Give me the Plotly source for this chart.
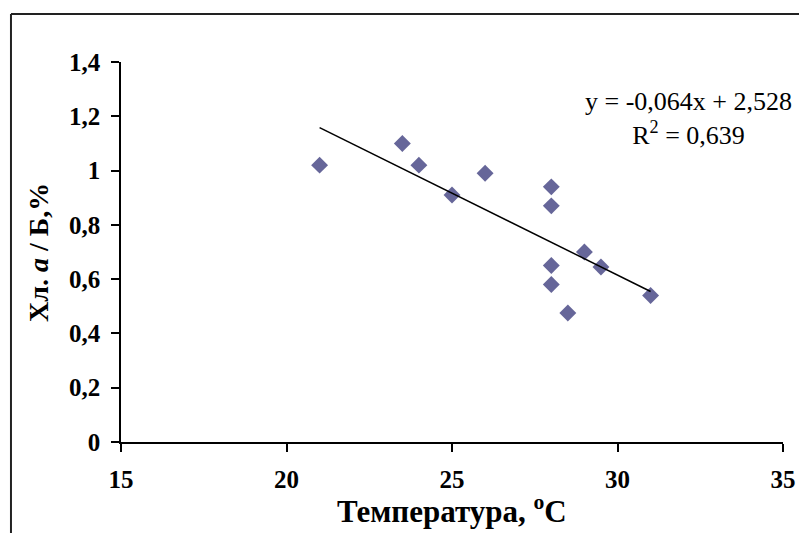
import numpy as np
import plotly.graph_objects as go

# Data
temperature = [21, 23.5, 24, 25, 26, 28, 28, 28, 28, 29, 29.5, 28.5, 31]
chl_ratio = [1.02, 1.10, 1.02, 0.91, 0.99, 0.94, 0.87, 0.65, 0.58, 0.70, 0.645, 0.475, 0.54]

x_ticks = [15, 20, 25, 30, 35]
y_ticks = [0, 0.2, 0.4, 0.6, 0.8, 1.0, 1.2, 1.4]
y_tick_labels = ["0", "0,2", "0,4", "0,6", "0,8", "1", "1,2", "1,4"]

equation_text = "y = -0,064x + 2,528<br>R<sup>2</sup> = 0,639"
x_title = "Температура, <sup>o</sup>C"
y_title = "Хл. <i>a</i> / Б,%"

# Linear trend computed from the data
slope, intercept = np.polyfit(temperature, chl_ratio, 1)
trend_x = [min(temperature), max(temperature)]
trend_y = [slope * v + intercept for v in trend_x]

FONT = "Liberation Serif"

fig = go.Figure()
fig.add_trace(go.Scatter(
    x=temperature, y=chl_ratio, mode="markers",
    marker=dict(symbol="diamond", size=13, color="#666699", line=dict(width=0)),
    showlegend=False, hoverinfo="x+y",
))
fig.add_trace(go.Scatter(
    x=trend_x, y=trend_y, mode="lines",
    line=dict(color="black", width=1.5),
    showlegend=False, hoverinfo="skip",
))

fig.update_layout(
    width=799, height=533,
    margin=dict(l=121, r=16, t=62, b=91),
    paper_bgcolor="white", plot_bgcolor="white",
    font=dict(family=FONT, color="black"),
    xaxis=dict(
        range=[15, 35], tickvals=x_ticks, ticktext=[str(v) for v in x_ticks],
        showgrid=False, zeroline=False, automargin=False,
        showline=True, linecolor="black", linewidth=1.5,
        ticks="outside", ticklen=8, tickwidth=1.5, tickcolor="black",
        ticklabelstandoff=6,
        tickfont=dict(family=FONT, size=25, color="black", weight="bold"),
    ),
    yaxis=dict(
        range=[0, 1.4], tickvals=y_ticks, ticktext=y_tick_labels,
        showgrid=False, zeroline=False, automargin=False,
        showline=True, linecolor="black", linewidth=1.5,
        ticks="outside", ticklen=8, tickwidth=1.5, tickcolor="black",
        ticklabelstandoff=6,
        tickfont=dict(family=FONT, size=25, color="black", weight="bold"),
    ),
    annotations=[
        dict(
            text=equation_text, xref="paper", yref="paper",
            x=0.8565, y=0.852, xanchor="center", yanchor="middle",
            showarrow=False, align="center",
            font=dict(family=FONT, size=26, color="black"),
        ),
        dict(
            text=x_title, xref="paper", yref="paper",
            x=0.5, y=-0.178, xanchor="center", yanchor="middle",
            showarrow=False,
            font=dict(family=FONT, size=31, color="black", weight="bold"),
        ),
        dict(
            text=y_title, xref="paper", yref="paper", textangle=-90,
            x=-0.1254, y=0.5, xanchor="center", yanchor="middle",
            showarrow=False,
            font=dict(family=FONT, size=28, color="black", weight="bold"),
        ),
    ],
    shapes=[
        dict(type="line", xref="paper", yref="paper", x0=-0.1662, x1=-0.1662, y0=-0.5, y1=1.1263,
             line=dict(color="#222222", width=2)),
        dict(type="line", xref="paper", yref="paper", x0=-0.1662, x1=1.2, y0=1.1263, y1=1.1263,
             line=dict(color="#222222", width=2)),
    ],
)

fig.write_html("out.html", config={"displayModeBar": False},
               post_script="document.body.style.margin='0';")
